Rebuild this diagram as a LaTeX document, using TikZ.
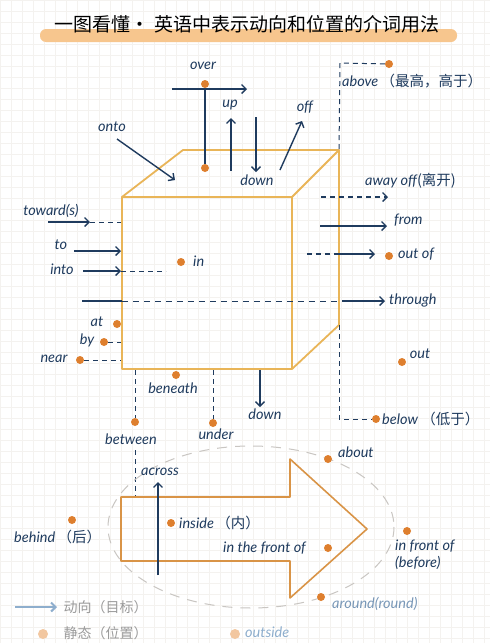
\documentclass[tikz,border=0pt]{standalone}
\usepackage{fontspec}
\setmainfont{Lato}
\newfontfamily\cjk{Noto Sans CJK SC}
\usetikzlibrary{arrows.meta}

\definecolor{navy}{HTML}{1F3B5E}
\definecolor{cubeor}{HTML}{E9B558}
\definecolor{dotor}{HTML}{DE7F2E}
\definecolor{shapeor}{HTML}{D99447}
\definecolor{gridc}{HTML}{F4F2EF}
\definecolor{hilite}{HTML}{F7C68E}
\definecolor{fadeblue}{HTML}{8EAECD}
\definecolor{fadegray}{HTML}{9A9A9A}
\definecolor{fadeor}{HTML}{F2C7A0}
\definecolor{ringc}{HTML}{C9C6C2}

\begin{document}
\begin{tikzpicture}[x=1pt, y=-1pt, >={Straight Barb[length=4.5pt,width=9pt]},
  mv/.style={->, navy, line width=1.4pt},
  mvline/.style={navy, line width=1.4pt},
  guide/.style={navy, line width=1pt, dash pattern=on 5pt off 4pt},
  cube/.style={cubeor, line width=1.8pt, line join=round},
  lbl/.style={navy, inner sep=0pt, font=\fontsize{14.5}{17}\selectfont\itshape},
  dot/.style={circle, fill=dotor, inner sep=0pt, minimum size=8pt},
  fdot/.style={circle, fill=fadeor, inner sep=0pt, minimum size=10pt}]

\useasboundingbox (0,0) rectangle (490,643);
\fill[white] (0,0) rectangle (490,643);
\draw[gridc, line width=0.5pt] (0,0) grid[step=11pt] (490,643);

% title
\fill[hilite, rounded corners=6pt] (40,29) rectangle (457,42);
\node[inner sep=0pt, font=\cjk\fontsize{19}{22}\selectfont] (title) at (247,24) {一图看懂•\ 英语中表示动向和位置的介词用法};

% cube
\coordinate (fa) at (122,197);
\coordinate (fb) at (292,197);
\coordinate (fc) at (292,369);
\coordinate (fd) at (122,369);
\coordinate (ba) at (183,150);
\coordinate (bb) at (339,150);
\coordinate (bc) at (339,325);
\draw[cube] (fa) -- (fb) -- (fc) -- (fd) -- cycle;
\draw[cube] (fa) -- (ba) -- (bb) -- (fb) (bb) -- (bc) -- (fc);

% over, up, down, off, onto
\node[lbl] (over) at (203,66) {over};
\node[dot] (overt) at (205,84) {};
\node[dot] (overb) at (205,168) {};
\draw[mvline] (overt) -- (overb);
\coordinate (overs) at (172,89);
\coordinate (overe) at (247,89);
\draw[mv] (overs) -- (overe);

\node[lbl] (up) at (230,105) {up};
\coordinate (ups) at (231,171);
\coordinate (upe) at (231,118);
\draw[mv] (ups) -- (upe);

\node[lbl] (downt) at (257,180) {down};
\coordinate (downs) at (256,117);
\coordinate (downe) at (256,172);
\draw[mv] (downs) -- (downe);

\node[lbl] (off) at (305,107) {off};
\coordinate (offs) at (280,170);
\coordinate (offe) at (302,121);
\draw[mv] (offs) -- (offe);

\node[lbl] (onto) at (112,127) {onto};
\coordinate (ontos) at (117,139);
\coordinate (ontoe) at (175,180);
\draw[mv] (ontos) -- (ontoe);

% above / below
\node[dot] (abovedot) at (389,64) {};
\node[lbl, anchor=west] (above) at (342,81) {above\,{\cjk （最高，高于）}};
\coordinate (abovek) at (340,63);
\draw[guide] (abovedot) -- (abovek) -- (bb);

\node[dot] (belowdot) at (376,419) {};
\node[lbl, anchor=west] (below) at (382,419) {below {\cjk （低于）}};
\coordinate (belowk) at (339,419);
\draw[guide] (bc) -- (belowk) -- (belowdot);

% right side
\node[lbl, anchor=west] (awayoff) at (365,181) {away off{\cjk (离开)}};
\coordinate (aways) at (321,197);
\coordinate (awaye) at (388,197);
\draw[mv, dash pattern=on 5pt off 4pt] (aways) -- (awaye);

\node[lbl, anchor=west] (from) at (394,220) {from};
\coordinate (froms) at (320,226);
\coordinate (frome) at (387,226);
\draw[mv] (froms) -- (frome);

\node[dot] (outofdot) at (389,256) {};
\node[lbl, anchor=west] (outof) at (398,254) {out of};
\coordinate (outofs) at (307,254);
\coordinate (outofm) at (336,254);
\coordinate (outofe) at (375,254);
\draw[guide, line width=1.4pt] (outofs) -- (outofm);
\draw[mv] (outofm) -- (outofe);

\node[lbl, anchor=west] (through) at (389,300) {through};
\coordinate (thra) at (82,301);
\coordinate (thrb) at (122,301);
\coordinate (thrc) at (342,301);
\coordinate (thrd) at (385,301);
\draw[mvline] (thra) -- (thrb);
\draw[guide, dash pattern=on 6pt off 5pt] (thrb) -- (thrc);
\draw[mv] (thrc) -- (thrd);

\node[dot] (outdot) at (402,362) {};
\node[lbl] (out) at (420,354) {out};

% left side
\node[lbl] (towards) at (51,211) {toward(s)};
\coordinate (tows) at (48,222);
\coordinate (towe) at (90,222);
\coordinate (towf) at (121,222);
\draw[mv] (tows) -- (towe);
\draw[guide] (towe) -- (towf);

\node[lbl] (to) at (61,245) {to};
\coordinate (tos) at (74,251);
\coordinate (toe) at (121,251);
\draw[mv] (tos) -- (toe);

\node[lbl] (into) at (62,269) {into};
\coordinate (intos) at (83,271);
\coordinate (intoe) at (121,271);
\coordinate (intof) at (166,271);
\draw[mv] (intos) -- (intoe);
\draw[guide] (intoe) -- (intof);

\node[dot] (indot) at (181,262) {};
\node[lbl, anchor=west] (in) at (193,261) {in};

\node[dot] (atdot) at (117,324) {};
\node[lbl] (at) at (97,322) {at};

\node[dot] (bydot) at (104,342) {};
\node[lbl] (by) at (87,340) {by};
\coordinate (byk) at (121,342);
\draw[guide] (bydot) -- (byk);

\node[dot] (neardot) at (80,360) {};
\node[lbl] (near) at (54,359) {near};
\coordinate (neark) at (121,360);
\draw[guide] (neardot) -- (neark);

% below the cube
\node[dot] (beneathdot) at (176,375) {};
\node[lbl] (beneath) at (173,388) {beneath};

\node[dot] (betweendot) at (135,422) {};
\node[lbl] (between) at (131,439) {between};
\coordinate (betwt) at (135,370);
\coordinate (betwm) at (135,450);
\coordinate (betwb) at (135,496);
\draw[guide] (betwt) -- (betweendot);
\draw[guide] (betwm) -- (betwb);

\node[dot] (underdot) at (213,423) {};
\node[lbl] (under) at (216,434) {under};
\coordinate (undert) at (213,370);
\draw[guide] (undert) -- (underdot);

\node[lbl] (downb) at (265,414) {down};
\coordinate (downbs) at (260,370);
\coordinate (downbe) at (260,407);
\draw[mv] (downbs) -- (downbe);

% big arrow and ring
\draw[ringc, line width=1pt, dash pattern=on 10pt off 8pt] (251,527) ellipse [x radius=143, y radius=81];
\draw[shapeor, line width=1.6pt, line join=round] (121,497) -- (290,497) -- (290,459) -- (367,529)
  -- (290,598) -- (290,561) -- (121,561) -- cycle;

\node[lbl] (across) at (160,472) {across};
\coordinate (acrs) at (158,575);
\coordinate (acre) at (158,482);
\draw[mv] (acrs) -- (acre);

\node[dot] (aboutdot) at (328,459) {};
\node[lbl, anchor=west] (about) at (338,452) {about};

\node[dot] (behinddot) at (72,520) {};
\node[lbl, anchor=west] (behind) at (14,537) {behind\,{\cjk （后）}};

\node[dot] (insidedot) at (171,523) {};
\node[lbl, anchor=west] (inside) at (179,523) {inside\,{\cjk （内）}};

\node[lbl, anchor=east] (inthefront) at (306,548) {in the front of};
\node[dot] (inthefrontdot) at (328,548) {};

\node[dot] (infrontdot) at (407,531) {};
\node[lbl, anchor=north west, align=left] (infront) at (395,540) {in front of\\(before)};

\node[dot] (arounddot) at (321,597) {};
\node[lbl, anchor=west, text=fadeblue!80!navy] (around) at (332,604) {around(round)};

% legend
\coordinate (legs) at (15,607);
\coordinate (lege) at (57,607);
\draw[->, fadeblue, line width=2pt] (legs) -- (lege);
\node[anchor=west, text=fadegray, font=\cjk\fontsize{14}{16}\selectfont] (legmove) at (60,607) {动向（目标）};
\node[fdot] (legdot) at (43,634) {};
\node[anchor=west, text=fadegray, font=\cjk\fontsize{14}{16}\selectfont] (legstay) at (60,633) {静态（位置）};

\node[fdot] (outsidedot) at (235,634) {};
\node[lbl, anchor=west, text=fadeblue] (outside) at (245,632) {outside};

\end{tikzpicture}
\end{document}
